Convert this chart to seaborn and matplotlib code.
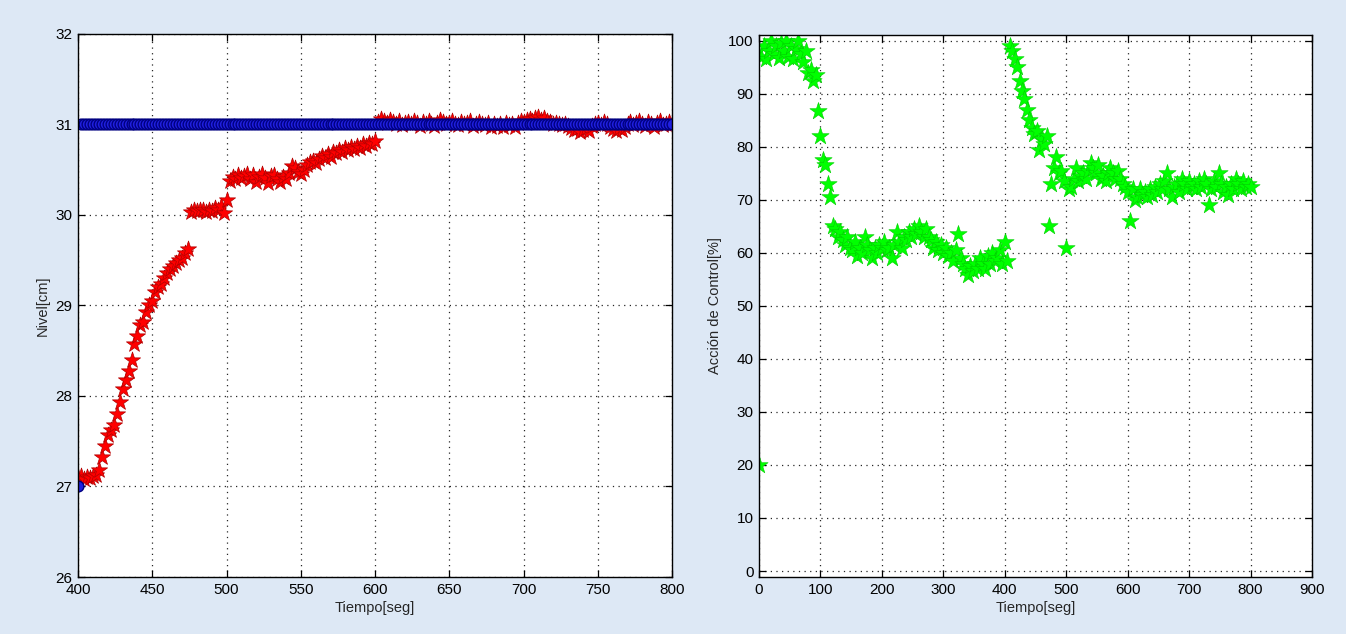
import numpy as np
import pandas as pd
import matplotlib
matplotlib.use("Agg")
import matplotlib.pyplot as plt
import seaborn as sns

# ---- Nivel del tanque (muestreo cada 2 s, 400-800 s) ----
T_NIVEL_START = 400
T_NIVEL_STEP = 2

NIVEL_MEDIDO = [
    27.10, 27.12, 27.08, 27.10, 27.09, 27.12, 27.13, 27.18, 27.33, 27.45,
    27.57, 27.62, 27.68, 27.80, 27.93, 28.08, 28.18, 28.28, 28.40, 28.58,
    28.66, 28.78, 28.82, 28.93, 29.00, 29.05, 29.15, 29.20, 29.24, 29.30,
    29.36, 29.40, 29.44, 29.47, 29.50, 29.52, 29.58, 29.62, 30.03, 30.05,
    30.04, 30.06, 30.05, 30.03, 30.06, 30.04, 30.08, 30.05, 30.10, 30.02,
    30.17, 30.38, 30.42, 30.40, 30.44, 30.41, 30.43, 30.45, 30.40, 30.44,
    30.36, 30.42, 30.45, 30.41, 30.35, 30.43, 30.44, 30.40, 30.36, 30.42,
    30.40, 30.46, 30.54, 30.52, 30.48, 30.45, 30.50, 30.55, 30.58, 30.60,
    30.57, 30.62, 30.65, 30.63, 30.67, 30.64, 30.70, 30.68, 30.72, 30.70,
    30.74, 30.72, 30.75, 30.73, 30.76, 30.74, 30.78, 30.76, 30.80, 30.78,
    30.82, 31.03, 31.06, 31.04, 31.02, 31.05, 31.03, 31.01, 31.04, 30.99,
    31.02, 31.03, 31.00, 31.04, 31.02, 30.98, 31.03, 31.01, 31.04, 31.00,
    30.98, 31.02, 31.05, 31.03, 31.00, 31.02, 31.04, 31.01, 30.99, 31.03,
    31.00, 31.02, 31.04, 30.98, 31.01, 31.03, 31.00, 30.99, 31.02, 30.97,
    31.01, 30.98, 31.00, 30.97, 31.02, 30.99, 31.01, 30.97, 31.02, 31.04,
    31.03, 31.05, 31.06, 31.04, 31.07, 31.08, 31.05, 31.07, 31.04, 31.03,
    31.01, 31.02, 31.00, 30.99, 31.01, 30.98, 30.96, 30.94, 30.95, 30.92,
    30.94, 30.96, 30.93, 30.98, 31.00, 31.02, 30.99, 31.03, 31.00, 30.97,
    30.95, 30.93, 30.96, 30.94, 30.97, 31.00, 31.03, 30.99, 31.02, 31.04,
    31.00, 30.98, 31.03, 31.01, 30.97, 31.02, 31.04, 30.99, 31.01, 31.03,
    31.00,
]

# Referencia: escalon de 27 cm a 31 cm
REFERENCIA = [27.0] + [31.0] * 200

# ---- Accion de control (muestreo cada 4 s, 0-800 s) ----
T_CTRL_STEP = 4

ACCION_CONTROL = [
    20, 97, 99, 96.5, 98, 100, 97.5, 99, 96.8, 99.5,
    98, 100, 97, 99, 96.5, 98.5, 100, 97.5, 96, 98,
    94, 94.5, 92.5, 93.5, 86.8, 82, 77.5, 76.5, 73, 70.5,
    65, 64.5, 63, 64, 62.5, 61.5, 63, 61, 60.5, 62,
    59.5, 61, 60, 63, 61.5, 60.5, 59, 61, 60, 61.5,
    61, 62, 60.5, 61, 59, 61.5, 64, 62, 61, 63,
    62.5, 64, 63, 64.5, 63.5, 65, 64, 63, 64.5, 63,
    62.5, 61, 62, 60.5, 61.5, 60, 61, 59.5, 60, 58.5,
    60.5, 63.5, 59, 58, 57, 55.8, 57.5, 56.5, 58, 57,
    59, 58, 57, 59.5, 58, 60, 58.5, 59, 60.5, 58,
    62, 58.5, 99, 98, 96.5, 95, 92.5, 90.5, 89, 87,
    85, 83.5, 82.5, 83, 79.5, 81.5, 80.5, 82, 65, 73,
    76, 78, 75, 75.5, 73.5, 61, 72, 72.5, 74, 76,
    73.5, 74.5, 75, 74, 75.5, 77, 76, 75, 76.5, 74,
    74.5, 73.5, 75, 76, 75, 74, 75.5, 74, 73, 72.5,
    71.5, 66, 72, 70, 70.5, 72, 71, 71.5, 70.5, 72,
    71, 72.5, 71.5, 73, 72, 73.5, 75, 72, 70.5, 72.5,
    73, 71.5, 74, 73, 72, 73.5, 72.5, 73, 72, 73.5,
    72.5, 74, 73, 69, 72, 73.5, 72.5, 75, 73, 71.5,
    72.5, 71, 73, 72, 74, 73, 72, 73.5, 72.5, 73,
    72.5,
]

NIVEL_YTICKS = [26, 27, 28, 29, 30, 31, 32]
NIVEL_XTICKS = [400, 450, 500, 550, 600, 650, 700, 750, 800]
CTRL_YTICKS = [0, 10, 20, 30, 40, 50, 60, 70, 80, 90, 100]
CTRL_XTICKS = [0, 100, 200, 300, 400, 500, 600, 700, 800, 900]

t_nivel = T_NIVEL_START + T_NIVEL_STEP * np.arange(len(NIVEL_MEDIDO))
t_ctrl = T_CTRL_STEP * np.arange(len(ACCION_CONTROL))

df_nivel = pd.DataFrame({"t": t_nivel, "nivel": NIVEL_MEDIDO, "ref": REFERENCIA})
df_ctrl = pd.DataFrame({"t": t_ctrl, "u": ACCION_CONTROL})

sns.set_theme(style="white")
plt.rcParams["font.family"] = ["Liberation Sans", "DejaVu Sans"]

BG = "#dde8f5"
fig = plt.figure(figsize=(13.46, 6.34), dpi=100, facecolor=BG)
ax1 = fig.add_axes([0.0580, 0.0899, 0.4413, 0.8565])
ax2 = fig.add_axes([0.5639, 0.0899, 0.4108, 0.8549])

# Nivel medido (rojo) y referencia (azul, encima)
sns.scatterplot(data=df_nivel, x="t", y="nivel", ax=ax1, marker="*",
                s=150, color="#ff0000", edgecolor="#b00000", linewidth=0.5,
                zorder=3, legend=False)
sns.scatterplot(data=df_nivel, x="t", y="ref", ax=ax1, marker="o",
                s=60, facecolor="#2020e0", edgecolor="#000080", linewidth=1.0,
                zorder=4, legend=False)

# Accion de control (verde)
sns.scatterplot(data=df_ctrl, x="t", y="u", ax=ax2, marker="*",
                s=170, color="#00ff00", edgecolor="#00cc00", linewidth=0.4,
                zorder=3, legend=False)

def estilo(ax, xlim, ylim, xticks, yticks, ylabel):
    ax.set_facecolor("white")
    ax.set_xlim(*xlim)
    ax.set_ylim(*ylim)
    ax.set_xticks(xticks)
    ax.set_yticks(yticks)
    ax.set_xlabel("Tiempo[seg]", fontsize=10.5, labelpad=3)
    ax.set_ylabel(ylabel, fontsize=10.5, labelpad=4)
    ax.grid(True, color="black", linestyle=(0, (1, 3.5)), linewidth=0.9, alpha=0.85)
    ax.set_axisbelow(True)
    for sp in ax.spines.values():
        sp.set_color("black")
        sp.set_linewidth(1.0)
        sp.set_visible(True)
        sp.set_zorder(5)
    ax.tick_params(direction="in", length=5, width=0.9, top=True, right=True,
                   bottom=True, left=True, labelsize=11, colors="black", pad=4)

estilo(ax1, (400, 800), (26, 32), NIVEL_XTICKS, NIVEL_YTICKS, "Nivel[cm]")
estilo(ax2, (0, 900), (-1.13, 101.1), CTRL_XTICKS, CTRL_YTICKS, "Acción de Control[%]")

fig.savefig("out.png", dpi=100, facecolor=BG)
